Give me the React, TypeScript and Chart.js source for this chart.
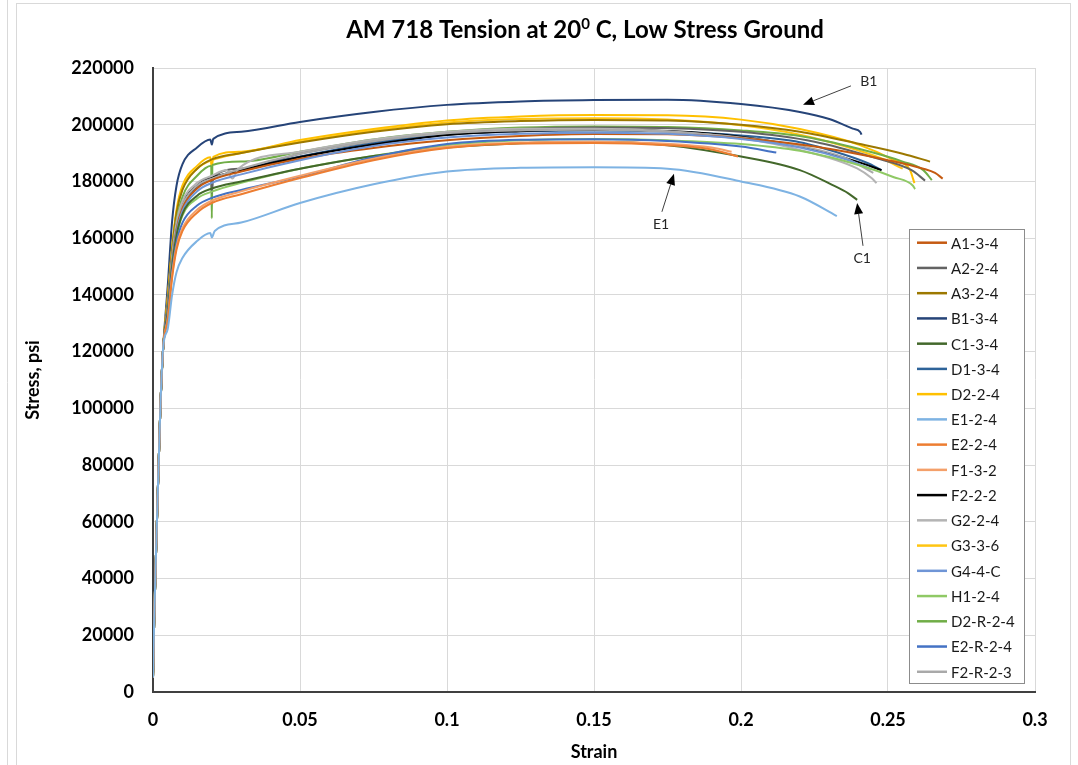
import React, { useEffect, useRef } from "react";
import { Chart, registerables } from "chart.js";
Chart.register(...registerables);

// ---------- DATA ----------
const chartTitleParts = ["AM 718 Tension at 20", "0", " C, Low Stress Ground"];
const xAxisTitle = "Strain";
const yAxisTitle = "Stress, psi";
const xMin = 0, xMax = 0.3, xStep = 0.05;
const yMin = 0, yMax = 220000, yStep = 20000;

const seriesNames = [
  "A1-3-4", "A2-2-4", "A3-2-4", "B1-3-4", "C1-3-4", "D1-3-4", "D2-2-4", "E1-2-4", "E2-2-4",
  "F1-3-2", "F2-2-2", "G2-2-4", "G3-3-6", "G4-4-C", "H1-2-4", "D2-R-2-4", "E2-R-2-4", "F2-R-2-3",
];
const seriesColors = [
  "#C55A11", "#636363", "#9C7800", "#264478", "#43682B", "#2E6399", "#FFC000", "#7EB3E3", "#ED7D31",
  "#F4A06A", "#000000", "#B4B4B4", "#FFC512", "#6F95D6", "#8FC965", "#70AD47", "#4472C4", "#A9A9A9",
];

// shared initial elastic rise [strain, stress]
const elasticRise = [[0, 5000], [0.0004, 25000], [0.0012, 55000], [0.0025, 100000], [0.0035, 122000]];

const a1_3_4 = [[0.005,135000],[0.0065,151000],[0.008,163000],[0.01,170500],[0.015,177500],[0.02,180500],[0.03,183500],[0.05,188000],[0.075,191800],[0.1,194500],[0.125,196000],[0.15,196700],[0.175,196600],[0.2,195200],[0.225,192300],[0.25,187500],[0.262,184500],[0.266,183000],[0.2686,181000]];
const a2_2_4 = [[0.005,136000],[0.0065,153000],[0.008,164500],[0.01,172000],[0.015,178500],[0.0198,181500],[0.02,176000],[0.0205,181500],[0.03,184500],[0.05,189800],[0.075,194000],[0.1,197000],[0.125,198500],[0.15,199000],[0.175,198800],[0.2,197500],[0.225,194000],[0.245,188500],[0.258,184000],[0.2626,180300]];
const a3_2_4 = [[0.005,138000],[0.0065,156000],[0.008,169000],[0.01,177000],[0.015,184500],[0.02,187800],[0.03,190000],[0.05,193700],[0.075,197500],[0.1,200200],[0.125,201300],[0.15,201700],[0.175,201500],[0.2,200000],[0.22,197500],[0.24,193300],[0.255,189800],[0.2643,187000]];
const b1_3_4 = [[0.005,143000],[0.0065,166000],[0.008,178500],[0.01,186000],[0.015,192000],[0.0195,194800],[0.02,193000],[0.0205,195000],[0.03,197500],[0.05,201000],[0.075,204500],[0.1,207000],[0.125,208200],[0.15,208700],[0.175,208800],[0.2,207300],[0.22,204500],[0.23,202000],[0.238,198600],[0.2405,197500],[0.241,196500]];
const c1_3_4 = [[0.005,134000],[0.0065,150000],[0.008,161000],[0.01,168500],[0.015,175000],[0.02,177500],[0.03,180000],[0.05,184500],[0.075,189000],[0.1,192000],[0.125,193500],[0.15,194000],[0.175,192800],[0.2,188800],[0.22,184000],[0.231,178800],[0.2365,175800],[0.2395,173500]];
const d1_3_4 = [[0.005,135500],[0.0065,152000],[0.008,164000],[0.01,171500],[0.015,178000],[0.02,181000],[0.03,184000],[0.05,188800],[0.075,193500],[0.1,196500],[0.125,197700],[0.15,198000],[0.175,197600],[0.2,196200],[0.22,193800],[0.235,189500],[0.243,186500],[0.2478,184000]];
const d2_2_4 = [[0.005,139000],[0.0065,157000],[0.008,170000],[0.01,178500],[0.015,185500],[0.0195,188500],[0.02,185000],[0.0205,188700],[0.03,190500],[0.05,194600],[0.075,198500],[0.1,201500],[0.125,202900],[0.15,203400],[0.175,203300],[0.2,201800],[0.22,198500],[0.24,193000],[0.252,187500],[0.2575,184000],[0.2585,181000],[0.259,179400]];
const e1_2_4 = [[0.005,128000],[0.0065,140000],[0.008,148000],[0.01,153000],[0.015,159000],[0.0195,161800],[0.02,160300],[0.021,162500],[0.03,165500],[0.05,172400],[0.075,179000],[0.1,183500],[0.125,184800],[0.15,185000],[0.175,184500],[0.2,180000],[0.22,174700],[0.2326,167800]];
const e2_2_4 = [[0.005,131000],[0.0065,146000],[0.008,156000],[0.01,162500],[0.015,169000],[0.02,172400],[0.03,175500],[0.05,181200],[0.075,187500],[0.1,191800],[0.125,193400],[0.15,193600],[0.175,192800],[0.19,191300],[0.199,188800]];
const f1_3_2 = [[0.005,131500],[0.0065,147000],[0.008,157000],[0.01,163500],[0.015,170000],[0.02,173200],[0.03,176500],[0.05,182000],[0.075,188000],[0.1,192200],[0.125,193700],[0.15,194000],[0.175,193300],[0.19,192000],[0.1968,190500]];
const f2_2_2 = [[0.005,135500],[0.0065,152500],[0.008,164500],[0.01,172000],[0.015,178500],[0.02,181200],[0.03,184000],[0.05,188600],[0.075,193000],[0.1,196400],[0.125,197700],[0.15,198200],[0.175,197800],[0.2,195800],[0.22,192300],[0.2395,187000],[0.2478,184000]];
const g2_2_4 = [[0.005,136000],[0.0065,153500],[0.008,165500],[0.01,173000],[0.015,179500],[0.02,182000],[0.025,184000],[0.027,181000],[0.029,184500],[0.05,190500],[0.075,194800],[0.1,197500],[0.125,198600],[0.15,198600],[0.175,197700],[0.2,195200],[0.22,191100],[0.2395,184600],[0.2445,181100],[0.2461,179400]];
const g3_3_6 = [[0.005,138500],[0.0065,156000],[0.008,169000],[0.01,177500],[0.015,184500],[0.02,187500],[0.03,190000],[0.05,194000],[0.075,198000],[0.1,200800],[0.125,202000],[0.15,202300],[0.175,201800],[0.2,199800],[0.22,196500],[0.235,192500],[0.248,188000],[0.255,184500]];
const g4_4_c = [[0.005,134500],[0.0065,150500],[0.008,162000],[0.01,169500],[0.015,176500],[0.02,179500],[0.03,182500],[0.05,187500],[0.075,192500],[0.1,195500],[0.125,196800],[0.15,197200],[0.175,196800],[0.2,195000],[0.22,192000],[0.235,188000],[0.244,184500]];
const h1_2_4 = [[0.005,133500],[0.0065,149500],[0.008,160500],[0.01,168000],[0.015,174000],[0.02,176400],[0.03,179500],[0.05,184500],[0.075,189000],[0.1,192800],[0.125,194500],[0.15,195000],[0.175,194500],[0.2,193200],[0.22,190800],[0.24,185800],[0.252,181500],[0.2585,178500],[0.2592,177300]];
const d2_r_2_4 = [[0.005,135000],[0.0065,153000],[0.008,166000],[0.01,174500],[0.015,182000],[0.0198,185500],[0.02,167000],[0.0202,185800],[0.03,187000],[0.05,190500],[0.075,194800],[0.1,197500],[0.125,199000],[0.15,199400],[0.175,199200],[0.2,198000],[0.22,196000],[0.24,191500],[0.255,187000],[0.262,184000],[0.2649,180500]];
const e2_r_2_4 = [[0.005,132500],[0.0065,148000],[0.008,158500],[0.01,165400],[0.015,171500],[0.02,174200],[0.03,177000],[0.05,181700],[0.075,188500],[0.1,193200],[0.125,194700],[0.15,194900],[0.175,194300],[0.2,192300],[0.212,190200]];
const f2_r_2_3 = [[0.005,135000],[0.0065,152000],[0.008,164000],[0.01,171500],[0.015,178500],[0.02,181000],[0.03,184500],[0.05,189800],[0.075,194200],[0.1,197000],[0.125,198000],[0.15,198200],[0.175,197500],[0.2,195500],[0.22,192500],[0.235,188500],[0.245,183000]];

const seriesPoints = [
  a1_3_4, a2_2_4, a3_2_4, b1_3_4, c1_3_4, d1_3_4, d2_2_4, e1_2_4, e2_2_4,
  f1_3_2, f2_2_2, g2_2_4, g3_3_6, g4_4_c, h1_2_4, d2_r_2_4, e2_r_2_4, f2_r_2_3,
];
// draw order (back to front)
const drawOrder = [7, 8, 9, 16, 4, 14, 13, 0, 17, 11, 10, 5, 1, 15, 2, 12, 6, 3];

// callouts: label position, arrow start, arrow tip (data coordinates)
const calloutLabels = ["B1", "E1", "C1"];
const calloutText = [[0.2435, 215400], [0.1728, 164700], [0.2412, 153000]];
const calloutFrom = [[0.2374, 213700], [0.1731, 169300], [0.2415, 157300]];
const calloutTo = [[0.2211, 207000], [0.1772, 182700], [0.2395, 172400]];

const FONT = "Lato, 'Open Sans', 'DejaVu Sans', sans-serif";

const decorPlugin = {
  id: "decor",
  afterDraw(chart: any) {
    const ctx = chart.ctx as CanvasRenderingContext2D;
    const xs = chart.scales.x, ys = chart.scales.y;
    ctx.save();
    // outer frame
    ctx.strokeStyle = "#d9d9d9";
    ctx.lineWidth = 1;
    ctx.strokeRect(16.5, 3.5, 1054, 780);
    ctx.beginPath();
    ctx.moveTo(7.5, 0);
    ctx.lineTo(7.5, 765);
    ctx.stroke();

    // title with superscript
    ctx.fillStyle = "#000000";
    ctx.textBaseline = "alphabetic";
    const big = `bold 24px ${FONT}`, small = `bold 15px ${FONT}`;
    ctx.font = big;
    const w0 = ctx.measureText(chartTitleParts[0]).width;
    const w2 = ctx.measureText(chartTitleParts[2]).width;
    ctx.font = small;
    const w1 = ctx.measureText(chartTitleParts[1]).width;
    let tx = 585 - (w0 + w1 + w2) / 2;
    const ty = 38;
    ctx.font = big;
    ctx.fillText(chartTitleParts[0], tx, ty);
    tx += w0;
    ctx.font = small;
    ctx.fillText(chartTitleParts[1], tx, ty - 9);
    tx += w1;
    ctx.font = big;
    ctx.fillText(chartTitleParts[2], tx, ty);

    // callouts
    ctx.lineWidth = 1;
    ctx.font = `14px ${FONT}`;
    ctx.textAlign = "center";
    ctx.textBaseline = "middle";
    calloutLabels.forEach((lab, i) => {
      const lx = xs.getPixelForValue(calloutText[i][0]);
      const ly = ys.getPixelForValue(calloutText[i][1]);
      ctx.fillStyle = "#262626";
      ctx.fillText(lab, lx, ly);
      const fx = xs.getPixelForValue(calloutFrom[i][0]);
      const fy = ys.getPixelForValue(calloutFrom[i][1]);
      const px = xs.getPixelForValue(calloutTo[i][0]);
      const py = ys.getPixelForValue(calloutTo[i][1]);
      const ang = Math.atan2(py - fy, px - fx);
      const hl = 11, hw = 4.5;
      const bx = px - hl * Math.cos(ang), by = py - hl * Math.sin(ang);
      ctx.strokeStyle = "#404040";
      ctx.beginPath();
      ctx.moveTo(fx, fy);
      ctx.lineTo(bx, by);
      ctx.stroke();
      ctx.fillStyle = "#000000";
      ctx.beginPath();
      ctx.moveTo(px, py);
      ctx.lineTo(bx + hw * Math.sin(ang), by - hw * Math.cos(ang));
      ctx.lineTo(bx - hw * Math.sin(ang), by + hw * Math.cos(ang));
      ctx.closePath();
      ctx.fill();
    });

    // legend
    const lx0 = 909.5, ly0 = 229.5, lw = 115, lh = 454;
    ctx.fillStyle = "#ffffff";
    ctx.fillRect(lx0, ly0, lw, lh);
    ctx.strokeStyle = "#8c8c8c";
    ctx.lineWidth = 1;
    ctx.strokeRect(lx0, ly0, lw, lh);
    ctx.font = `15px ${FONT}`;
    ctx.textAlign = "left";
    ctx.textBaseline = "middle";
    seriesNames.forEach((name, i) => {
      const y = 242.7 + i * 25.24;
      ctx.strokeStyle = seriesColors[i];
      ctx.lineWidth = 2.5;
      ctx.beginPath();
      ctx.moveTo(917, y);
      ctx.lineTo(947, y);
      ctx.stroke();
      ctx.fillStyle = "#1a1a1a";
      ctx.fillText(name, 951, y + 1);
    });
    ctx.restore();
  },
};

export default function App() {
  const canvasRef = useRef<HTMLCanvasElement | null>(null);

  useEffect(() => {
    const canvas = canvasRef.current;
    if (!canvas) return;
    const datasets = drawOrder.map((idx) => ({
      label: seriesNames[idx],
      data: [...elasticRise, ...seriesPoints[idx]].map(([x, y]) => ({ x, y })),
      borderColor: seriesColors[idx],
      backgroundColor: seriesColors[idx],
      borderWidth: 2,
      pointRadius: 0,
      fill: false,
      showLine: true,
      cubicInterpolationMode: "monotone" as const,
    }));
    const chart = new Chart(canvas, {
      type: "scatter",
      data: { datasets },
      plugins: [decorPlugin],
      options: {
        animation: false,
        responsive: false,
        maintainAspectRatio: false,
        layout: { padding: { left: 20, right: 43, top: 68, bottom: 0 } },
        plugins: {
          legend: { display: false },
          title: { display: false },
          tooltip: { enabled: false },
        },
        scales: {
          x: {
            type: "linear",
            min: xMin,
            max: xMax,
            ticks: {
              stepSize: xStep,
              color: "#000000",
              font: { family: FONT, size: 18, weight: "bold" },
              padding: 17,
              maxRotation: 0,
              callback: (v: any) => String(Math.round(Number(v) * 100) / 100),
            },
            grid: { color: "#d9d9d9", lineWidth: 1, drawTicks: false },
            border: { color: "#404040", width: 2 },
            title: {
              display: true,
              text: xAxisTitle,
              color: "#000000",
              font: { family: FONT, size: 18, weight: "bold" },
              padding: { top: 0, bottom: 2 },
            },
            afterFit: (scale: any) => { scale.height = 73; },
          },
          y: {
            type: "linear",
            min: yMin,
            max: yMax,
            ticks: {
              stepSize: yStep,
              color: "#000000",
              font: { family: FONT, size: 18, weight: "bold" },
              padding: 19,
              callback: (v: any) => String(v),
            },
            grid: { color: "#d9d9d9", lineWidth: 1, drawTicks: false },
            border: { color: "#404040", width: 2 },
            title: {
              display: true,
              text: yAxisTitle,
              color: "#000000",
              font: { family: FONT, size: 18, weight: "bold" },
              padding: { top: 2, bottom: 0 },
            },
            afterFit: (scale: any) => { scale.width = 133; },
          },
        },
      },
    } as any);
    return () => chart.destroy();
  }, []);

  return (
    <div style={{ position: "fixed", left: 0, top: 0, width: 1078, height: 765, background: "#ffffff" }}>
      <canvas ref={canvasRef} width={1078} height={765} style={{ display: "block", width: 1078, height: 765 }} />
    </div>
  );
}
